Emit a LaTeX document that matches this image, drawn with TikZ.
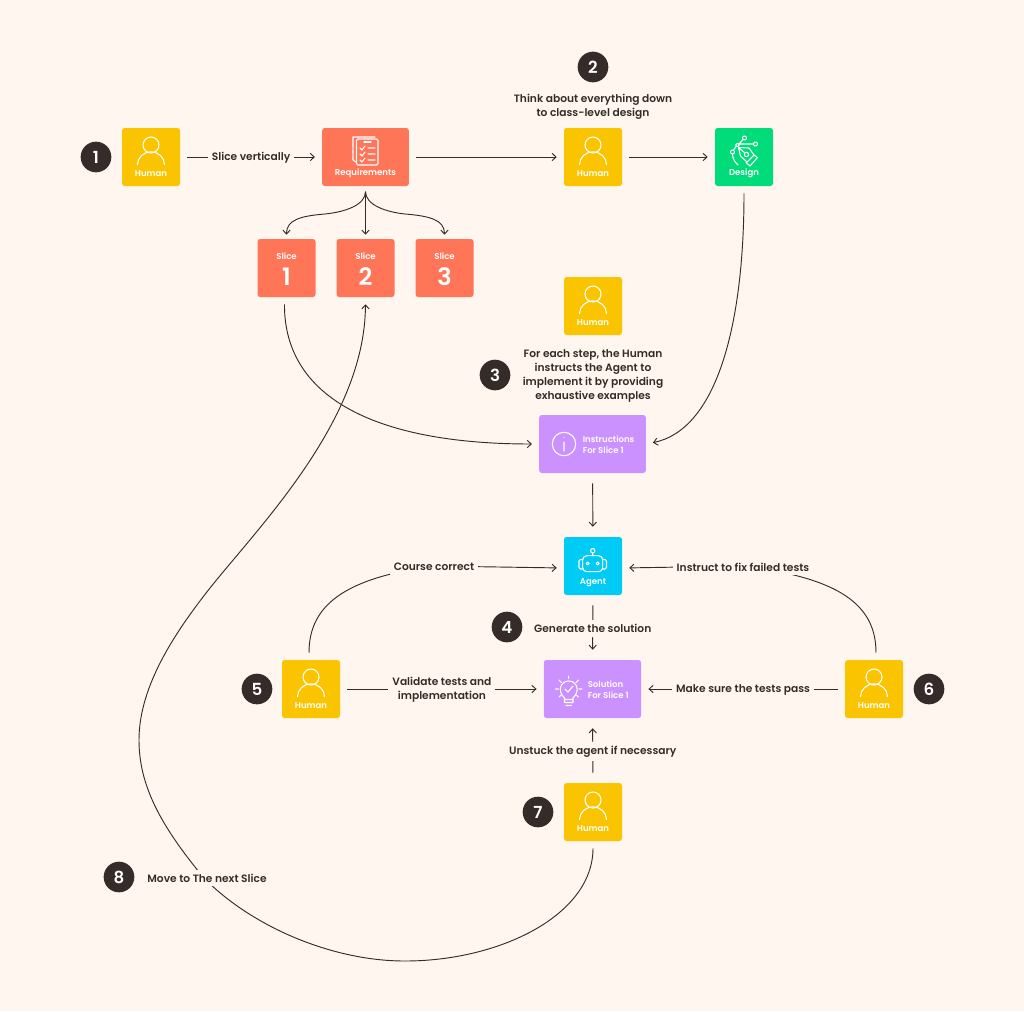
\documentclass[tikz,border=0pt]{standalone}
\usepackage{fontspec}
\setmainfont{Poppins}[BoldFont={Poppins SemiBold}]
\usetikzlibrary{arrows.meta}
\definecolor{paper}{HTML}{FFF6F0}
\definecolor{ink}{HTML}{352B28}
\definecolor{humanfill}{HTML}{FAC400}
\definecolor{reqfill}{HTML}{FF7558}
\definecolor{designfill}{HTML}{00DC7A}
\definecolor{planfill}{HTML}{CA91FF}
\definecolor{agentfill}{HTML}{00CBF5}
\tikzstyle{tile} = [rounded corners=2pt,minimum height=43.5pt,inner sep=0pt]
\tikzstyle{human} = [tile,fill=humanfill,minimum width=43.5pt]
\tikzstyle{slice} = [tile,fill=reqfill,minimum width=43.5pt]
\tikzstyle{caption} = [text=white,font=\fontsize{6.4}{8.2}\selectfont\bfseries,align=left,inner sep=0pt]
\tikzstyle{badge} = [circle,fill=ink,text=white,minimum size=23pt,inner sep=0pt,font=\fontsize{12.5}{12.5}\selectfont\bfseries]
\tikzstyle{edge} = [draw=ink,line width=0.7pt,-{Straight Barb[length=3pt,width=5.5pt]},shorten >=5.25pt,shorten <=5.25pt]
\tikzstyle{tall edge} = [edge,shorten >=7.5pt,shorten <=7.5pt]
\tikzstyle{fan edge} = [edge,shorten >=3pt,shorten <=4pt]
\tikzstyle{weight} = [fill=paper,text=ink,font=\fontsize{8}{10.5}\selectfont\bfseries,align=center,inner sep=3pt,yshift=-0.8pt]
\tikzstyle{glyph} = [draw=white,line width=0.8pt,line cap=round,line join=round]
\begin{document}
\begin{tikzpicture}[x=0.75pt,y=-0.75pt]
\useasboundingbox[fill=paper] (0,0) rectangle (1024,1011);
% tiles
\foreach \pos/\name in {{(151,157)/humanA}, {(593,157)/humanB}, {(593,306)/humanC},
                        {(311,689)/humanD}, {(874,689)/humanE}, {(593,812)/humanF}}{
  \node[human] (\name) at \pos {};
  \draw[glyph] \pos ++(0,-12) circle (8);
  \draw[glyph] \pos ++(-13.5,7.5) arc (180:360:13.5 and 12.6);
  \node[caption] at ([yshift=-12.5pt]\name.center) {Human};
}
\foreach \pos/\name/\num in {{(286.5,268)/sliceA/1}, {(365.5,268)/sliceB/2}, {(444.5,268)/sliceC/3}}{
  \node[slice] (\name) at \pos {};
  \node[caption] at ([yshift=9pt]\name.center) {Slice};
  \node[caption,font=\fontsize{18}{18}\selectfont\bfseries] at ([yshift=-6.5pt]\name.center) {\num};
}
\node[tile,fill=reqfill,minimum width=65pt] (req) at (365.5,157) {};
\node[tile,fill=designfill,minimum width=43.5pt] (design) at (744,157) {};
\node[tile,fill=planfill,minimum width=80pt] (instr) at (592.5,444) {};
\node[tile,fill=agentfill,minimum width=43.5pt] (agent) at (593,566) {};
\node[tile,fill=planfill,minimum width=73pt] (sol) at (592.5,689) {};
\node[caption] at (365.5,173.5) {Requirements};
\node[caption] at (744,173.5) {Design};
\node[caption] at (593,583) {Agent};
\node[caption,anchor=west] at (582.5,444.5) {Instructions\\For Slice 1};
\node[caption,anchor=west] at (587.5,689.5) {Solution\\For Slice 1};
% icons
\draw[glyph] (353,139) -- (353,137) -- (375,137) (353,139) -- (353,160) -- (357,163);
\draw[glyph,fill=reqfill,rounded corners=1pt] (356.5,139) rectangle (378,165);
\draw[glyph] (364,142) -- (371,142);
\foreach \y in {148,154,160}{
  \draw[glyph] (360,\y) -- (362,\y+2) -- (365,\y-2) (368,\y) -- (375,\y);
}
% pen tool
\draw[glyph] (737.5,145) circle (1.8) (739,144) -- (753.5,144) (739,144) -- (743,139.5) (736,146.5) -- (733.5,150);
\draw[glyph] (744.5,138) circle (2) (755.5,144) circle (2) (732.5,152) circle (2);
\draw[glyph] (732.5,154) .. controls (732.5,158) and (734.5,162) .. (738,165);
\draw[glyph] (738.5,147.5) -- (740.5,156) -- (747,162) -- (754,155) -- (749,148) -- cycle;
\draw[glyph] (746.5,154.5) circle (2.2) (738.5,147.5) -- (745,153) (746,162.5) -- (750,166) -- (757.5,157.5) -- (754,155);
\draw[glyph] (564,444) circle (11.7) (564,442) -- (564,451) (564,437.5) -- (564,437.6);
% robot
\draw[glyph] (592.7,555.7) -- (592.7,553) (592.7,550.7) circle (2.2);
\draw[glyph,rounded corners=3pt] (582.7,555.7) rectangle (602.7,571.7);
\draw[glyph] (587.7,563.5) circle (1.5) (597.7,563.5) circle (1.5);
\draw[glyph,rounded corners=1pt] (582.7,559.5) -- (579,559.5) -- (579,569) -- (582.7,569) (602.7,559.5) -- (606.5,559.5) -- (606.5,569) -- (602.7,569);
% bulb
\draw[glyph] (564.5,698) .. controls (557,691) and (560.5,681) .. (568.7,681) .. controls (577,681) and (580.5,691) .. (573,698) -- (573,702.5) -- (564.5,702.5) -- cycle (565,699.5) -- (573,699.5) (566,705.5) -- (571.5,705.5);
\draw[glyph] (565,689) -- (568,692) -- (573,686);
\draw[glyph] (568.7,676) -- (568.7,678.5) (555.5,689) -- (558.5,689) (579,689) -- (582,689) (559,680) -- (561.5,682.5) (578.5,680) -- (576,682.5) (559,697) -- (561,695) (578.5,697) -- (576.5,695);
% badges
\foreach \pos/\name/\num in {{(96,157)/stepA/1}, {(593,67)/stepB/2}, {(495,375)/stepC/3},
                             {(507,627)/stepD/4}, {(257,689)/stepE/5}, {(929,689)/stepF/6},
                             {(538,812)/stepG/7}, {(119,877)/stepH/8}}{
  \node[badge] (\name) at \pos {\num};
}
% free labels
\node[weight,fill=none] (think) at (593,105.5) {Think about everything down\\to class-level design};
\node[weight,fill=none] (each) at (593,374.5) {For each step, the Human\\instructs the Agent to\\implement it by providing\\exhaustive examples};
% connectors
\foreach \source/\dest/\kind/\weight in {humanA/req/edge/Slice vertically, agent/sol/tall edge/Generate the solution,
                                   humanF/sol/tall edge/Unstuck the agent if necessary,
                                   humanD/sol/edge/{Validate tests and\\implementation},
                                   humanE/sol/edge/Make sure the tests pass} {
  \path[\kind] (\source) -- node[weight] {\weight} (\dest);
}
\path[edge] (req) -- (humanB);
\path[edge] (humanB) -- (design);
\path[tall edge] (instr) -- (agent);
\path[fan edge] (req) -- (sliceB);
\path[fan edge] (req.south) .. controls (365.5,205) and (345,212) .. (325,214) .. controls (300,216) and (286.5,220) .. (sliceA.north);
\path[fan edge] (req.south) .. controls (365.5,205) and (386,212) .. (405,214) .. controls (430,216) and (444.5,220) .. (sliceC.north);
\path[edge] ([xshift=-1.5pt]sliceA.south) .. controls (284,400) and (380,444) .. (instr.west);
\path[edge] (design.south) .. controls (744,330) and (715,430) .. (instr.east);
\path[edge] ([xshift=-1.5pt]humanD.north) .. controls (309,605) and (345,578) .. (434,566) -- ([yshift=-1.5pt]agent.west);
\node[weight] (course) at (434,566) {Course correct};
\path[edge] ([xshift=1.5pt]humanE.north) .. controls (876,605) and (840,578) .. (743,566) -- ([yshift=-1.5pt]agent.east);
\node[weight] (fix) at (743,566) {Instruct to fix failed tests};
\coordinate (turn) at (204,878);
\path[edge,-,shorten >=0pt] (humanF.south) .. controls (593,915) and (500,961) .. (405,961) .. controls (330,961) and (250,925) .. (turn);
\path[edge,shorten <=0pt] (turn) .. controls (160,825) and (139,785) .. (139,740) .. controls (139,690) and (170,640) .. (203,597) .. controls (250,535) and (365,425) .. (sliceB.south);
\node[weight] (next) at (207,877) {Move to The next Slice};
\end{tikzpicture}
\end{document}
